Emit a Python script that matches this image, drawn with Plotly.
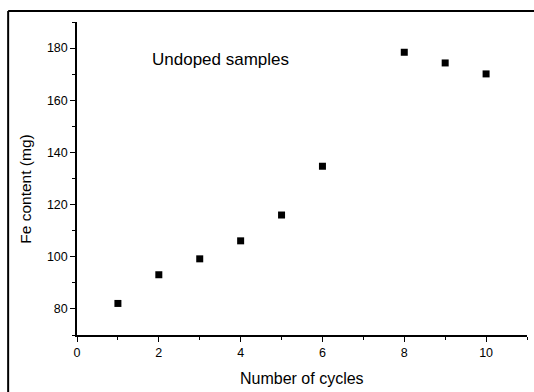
import plotly.graph_objects as go

# Fe content measured after each cycle (undoped samples)
cycles = [1, 2, 3, 4, 5, 6, 8, 9, 10]
fe_content_mg = [82.1, 93.1, 99.2, 106.1, 116.0, 134.7, 178.4, 174.3, 170.1]

x_ticks = [0, 2, 4, 6, 8, 10]
y_ticks = [80, 100, 120, 140, 160, 180]

FONT = "Liberation Sans, Arial, Helvetica, sans-serif"

fig = go.Figure()
fig.add_trace(go.Scatter(
    x=cycles, y=fe_content_mg, mode="markers",
    marker=dict(symbol="square", size=7, color="black"),
    showlegend=False,
))

axis_common = dict(
    showgrid=False, zeroline=False, showline=True, linecolor="black", linewidth=1.5,
    ticks="outside", ticklen=5, tickwidth=1.2, tickcolor="black",
    tickfont=dict(family=FONT, size=12.5, color="black"),
    minor=dict(ticks="outside", ticklen=3, tickwidth=1, tickcolor="black"),
)

fig.update_xaxes(range=[0, 11], tickvals=x_ticks, minor_dtick=1, **axis_common)
fig.update_yaxes(range=[70, 190], tickvals=y_ticks, minor_dtick=10, **axis_common)

# axis titles
fig.add_annotation(
    x=0.5, y=-0.138, xref="paper", yref="paper", text="Number of cycles", showarrow=False,
    xanchor="center", yanchor="middle", font=dict(family=FONT, size=16, color="black"),
)
fig.add_annotation(
    x=-0.115, y=0.465, xref="paper", yref="paper", text="Fe content (mg)", showarrow=False,
    textangle=-90, xanchor="center", yanchor="middle",
    font=dict(family=FONT, size=15.5, color="black"),
)

fig.add_annotation(
    x=1.78, y=175.8, xref="x", yref="y", text="Undoped samples", showarrow=False,
    xanchor="left", yanchor="middle", font=dict(family=FONT, size=17, color="black"),
)

# outer frame lines (left and top)
fig.add_shape(type="line", xref="paper", yref="paper", x0=-0.153, x1=-0.153, y0=1.035, y1=-0.2,
              line=dict(color="black", width=2))
fig.add_shape(type="line", xref="paper", yref="paper", x0=-0.153, x1=1.02, y0=1.035, y1=1.035,
              line=dict(color="black", width=2))

fig.update_layout(
    width=534, height=392,
    margin=dict(l=77, r=7, t=22, b=57),
    paper_bgcolor="white", plot_bgcolor="white",
    font=dict(family=FONT, color="black"),
)

fig.write_html("out.html")
